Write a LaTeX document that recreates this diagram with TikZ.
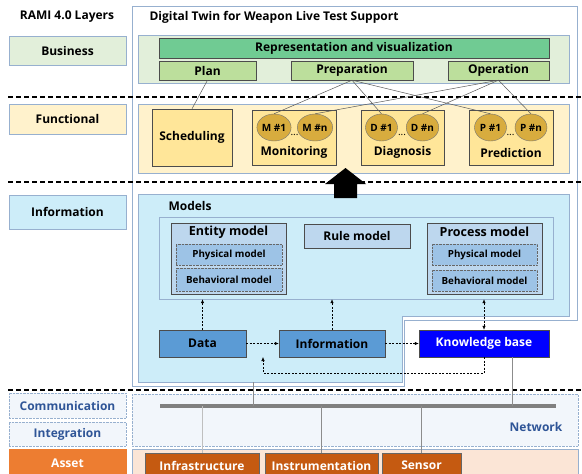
\documentclass[tikz,border=0pt]{standalone}
\usepackage{fontspec}
\setmainfont{Open Sans}
\usetikzlibrary{positioning,shapes.geometric,arrows.meta}

\definecolor{frameblue}{HTML}{97B0CF}
\definecolor{bizfill}{HTML}{E2EFDA}
\definecolor{funcfill}{HTML}{FFF2CC}
\definecolor{infofill}{HTML}{CDEDF9}
\definecolor{netfill}{HTML}{F2F6FB}
\definecolor{assetfill}{HTML}{FBE5D6}
\definecolor{assetorange}{HTML}{ED7D31}
\definecolor{assetbrown}{HTML}{C55A11}
\definecolor{reprgreen}{HTML}{70CB93}
\definecolor{stagegreen}{HTML}{BCDF9C}
\definecolor{lightgold}{HTML}{FFE699}
\definecolor{darkgold}{HTML}{D8AC3E}
\definecolor{modelblue}{HTML}{BDD7EE}
\definecolor{submodelblue}{HTML}{9DC3E6}
\definecolor{datablue}{HTML}{5B9BD5}
\definecolor{textblue}{HTML}{2F5597}

\begin{document}
\begin{tikzpicture}[x=1pt, y=-1pt, font=\bfseries\fontsize{12}{14}\selectfont]

	\useasboundingbox (0,0) rectangle (582,474);

	% Define custom styles
	\tikzstyle{layerbox} = [rectangle, draw=frameblue, minimum width=117pt, inner sep=0pt]
	\tikzstyle{commlayer} = [layerbox, densely dotted, fill=netfill, text=textblue]
	\tikzstyle{region} = [draw=frameblue, line width=0.8pt]
	\tikzstyle{box} = [rectangle, draw=black!70, inner sep=0pt, align=center]
	\tikzstyle{tool} = [ellipse, draw=black!55, fill=darkgold, minimum width=32pt, minimum height=27pt, inner sep=0pt, font=\bfseries\fontsize{10}{11}\selectfont]
	\tikzstyle{submodel} = [box, densely dotted, draw=black!60, fill=submodelblue, minimum width=106pt, minimum height=21pt, font=\bfseries\fontsize{9.8}{11}\selectfont]
	\tikzstyle{flow} = [dash pattern=on 2pt off 1.5pt, line width=0.6pt, >={Latex[length=4pt,width=3.5pt]}]
	\tikzstyle{link} = [draw=black!65, line width=0.5pt]
	\tikzstyle{wire} = [draw=black!45, line width=1pt]
	\tikzstyle{separator} = [line width=1.1pt, dash pattern=on 5pt off 3pt]

	% Background regions
	\draw[region] (132,6) -- (577,6) -- (577,320) -- (404,320) -- (404,386) -- (132,386) -- cycle;
	\draw[region, fill=bizfill] (138,35) rectangle (569,83);
	\draw[region, fill=funcfill] (138,104) rectangle (569,173);
	\draw[region, fill=infofill] (138,194) -- (569,194) -- (569,316) -- (402,316) -- (402,382) -- (138,382) -- cycle;
	\draw[frameblue, densely dotted, fill=netfill] (132,394) rectangle (578,446);
	\draw[frameblue, fill=assetfill] (132,449) rectangle (578,480);

	% Layer separators
	\draw[separator] (8,97) -- (582,97);
	\draw[separator] (8,182) -- (582,182);
	\draw[separator] (8,390) -- (582,390);

	% RAMI layers on the left
	\node (rami) at (67,17) {RAMI 4.0 Layers};
	\node[layerbox, fill=bizfill, minimum height=29pt] (business) at (67.5,50.5) {Business};
	\node[layerbox, fill=funcfill, minimum height=30pt] (functional) at (67.5,119) {Functional};
	\node[layerbox, fill=infofill, minimum height=34pt] (information) at (67.5,212) {Information};
	\node[commlayer, minimum height=25pt] (communication) at (67.5,405.5) {Communication};
	\node[commlayer, minimum height=24pt] (integration) at (67.5,434) {Integration};
	\node[layerbox, fill=assetorange, draw=assetorange, text=white, minimum height=29pt] (asset) at (67.5,463.5) {Asset};

	\node[anchor=west] (title) at (146,17) {Digital Twin for Weapon Live Test Support};

	% Business layer
	\node[box, fill=reprgreen, minimum width=390pt, minimum height=20pt] (repr) at (354,48) {Representation and visualization};
	\node[box, fill=stagegreen, minimum width=97pt, minimum height=19pt] (plan) at (207.5,70.5) {Plan};
	\node[box, fill=stagegreen, minimum width=122pt, minimum height=19pt] (preparation) at (352,70.5) {Preparation};
	\node[box, fill=stagegreen, minimum width=101pt, minimum height=19pt] (operation) at (498.5,70.5) {Operation};

	% Functional layer
	\node[box, fill=lightgold, minimum width=80pt, minimum height=57pt] (scheduling) at (192,137.5) {Scheduling};
	\node[box, fill=lightgold, minimum width=84pt, minimum height=55pt] (monitoring) at (294,137.5) {};
	\node[box, fill=lightgold, minimum width=83pt, minimum height=55pt] (diagnosis) at (402.5,137.5) {};
	\node[box, fill=lightgold, minimum width=84pt, minimum height=55pt] (prediction) at (511,137.5) {};
	\node (monlabel) at (294,152) {Monitoring};
	\node (diaglabel) at (402.5,152) {Diagnosis};
	\node (predlabel) at (511,153) {Prediction};

	\node[tool] (m1) at (274,127.5) {M \#1};
	\node[tool] (mn) at (315,127.5) {M \#n};
	\node[tool] (d1) at (381.5,127.5) {D \#1};
	\node[tool] (dn) at (422.5,127.5) {D \#n};
	\node[tool] (p1) at (490.5,127.5) {P \#1};
	\node[tool] (pn) at (531,127.5) {P \#n};
	\node[font=\fontsize{10}{11}\selectfont] (mdots) at (294.5,135) {...};
	\node[font=\fontsize{10}{11}\selectfont] (ddots) at (402,135) {...};
	\node[font=\fontsize{10}{11}\selectfont] (pdots) at (510.5,135) {...};

	% Links between business and functional layer
	\draw[link] (plan.south) -- (scheduling.north);
	\draw[link] (preparation.south) -- (m1.north);
	\draw[link] (preparation.south) -- (d1.north);
	\draw[link] (preparation.south) -- (p1.north);
	\draw[link] (operation.south) -- (mn.north);
	\draw[link] (operation.south) -- (dn.north);
	\draw[link] (operation.south) -- (pn.north);

	% Upward arrow
	\fill (334,198) -- (357,198) -- (357,184) -- (366,184) -- (345.5,168) -- (325,184) -- (334,184) -- cycle;

	% Information layer
	\node[anchor=west] (modelslabel) at (165,206) {Models};
	\node[rectangle, draw=frameblue, fill=infofill, minimum width=394pt, minimum height=82pt] (models) at (356,258) {};

	\node[box, fill=modelblue, minimum width=115pt, minimum height=71pt] (entity) at (228.5,258.5) {};
	\node[font=\bfseries\fontsize{12.5}{14}\selectfont] (entitylabel) at (228.5,232) {Entity model};
	\node[submodel] (entityphys) at (229,254.5) {Physical model};
	\node[submodel, minimum height=23pt] (entitybeh) at (229,279.5) {Behavioral model};

	\node[box, fill=modelblue, minimum width=106pt, minimum height=24pt] (rule) at (357,236) {Rule model};

	\node[box, fill=modelblue, minimum width=115pt, minimum height=71pt] (process) at (484.5,258.5) {};
	\node[font=\bfseries\fontsize{12.5}{14}\selectfont] (processlabel) at (484.5,232) {Process model};
	\node[submodel, minimum width=105pt] (processphys) at (484.5,254.5) {Physical model};
	\node[submodel, minimum width=105pt] (processbeh) at (484.5,280.5) {Behavioral model};

	\node[box, fill=datablue, minimum width=87pt, minimum height=27pt] (data) at (202.5,343.5) {Data};
	\node[box, fill=datablue, minimum width=106pt, minimum height=27pt] (info) at (332,343.5) {Information};
	\node[box, fill=blue, text=white, minimum width=130pt, minimum height=27pt] (kb) at (484,343.5) {Knowledge base};

	% Data flow
	\draw[flow, ->] (data.north) -- (data.north |- models.south);
	\draw[flow, ->] (info.north) -- (info.north |- models.south);
	\draw[flow, <->] (kb.north) -- (kb.north |- models.south);
	\draw[flow, ->] (data) -- (info);
	\draw[flow, ->] (info) -- (kb);
	\coordinate (feedback) at (263,357);
	\draw[flow, ->] (kb.south) -- ++(0,16) -| (feedback);

	% Network and assets
	\node[box, draw=black!60, fill=assetbrown, text=white, minimum width=114pt, minimum height=25pt] (infra) at (202,465.5) {Infrastructure};
	\node[box, draw=black!60, fill=assetbrown, text=white, minimum width=113pt, minimum height=25pt] (instr) at (321.5,465.5) {Instrumentation};
	\node[box, draw=black!60, fill=assetbrown, text=white, minimum width=79pt, minimum height=25pt] (sensor) at (421.5,465.5) {Sensor};

	\coordinate (busleft) at (160,406);
	\coordinate (busright) at (556,406);
	\coordinate (twinbottom) at (253,382);
	\draw[line width=3.5pt, black!50] (busleft) -- (busright);
	\draw[wire] (twinbottom) -- (twinbottom |- busleft);
	\draw[wire] ([xshift=28pt]kb.south) -- ([xshift=28pt]kb.south |- busleft);
	\draw[wire, draw=black!25] (infra.north) -- (infra.north |- busleft);
	\draw[wire] (instr.north) -- (instr.north |- busleft);
	\draw[wire] (sensor.north) -- (sensor.north |- busleft);
	\node[text=textblue] (network) at (536,427) {Network};

\end{tikzpicture}
\end{document}
